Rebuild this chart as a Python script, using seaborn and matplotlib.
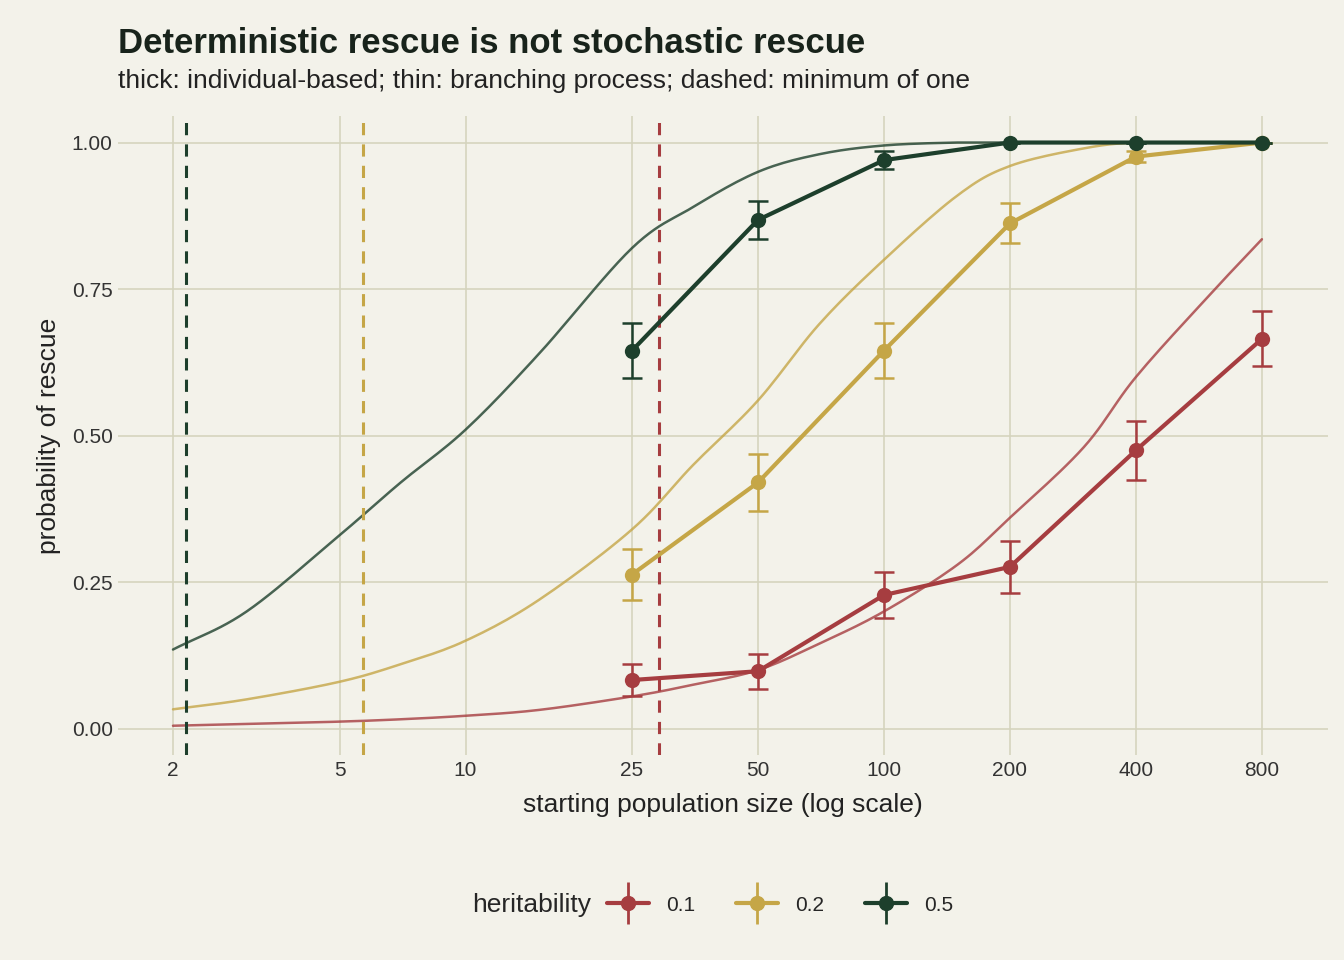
import numpy as np
import pandas as pd
import matplotlib
matplotlib.use("Agg")
import matplotlib.pyplot as plt
from matplotlib.lines import Line2D
from matplotlib.offsetbox import HPacker
import seaborn as sns

# values
herit = ["0.1", "0.2", "0.5"]
colors = {"0.1": "#A63D40", "0.2": "#C5A647", "0.5": "#1D3F2C"}

curve_n = [2, 3, 5, 7, 10, 15, 25, 35, 50, 70, 100, 150, 200, 300, 400, 600, 800]
curve_01 = [0.005, 0.008, 0.012, 0.016, 0.022, 0.032, 0.055, 0.075, 0.10, 0.145, 0.20, 0.28, 0.36, 0.48, 0.60, 0.74, 0.835]
curve_02 = [0.033, 0.05, 0.08, 0.11, 0.15, 0.22, 0.34, 0.45, 0.56, 0.69, 0.80, 0.91, 0.96, 0.99, 1.0, 1.0, 1.0]
curve_05 = [0.135, 0.20, 0.33, 0.42, 0.51, 0.64, 0.82, 0.89, 0.95, 0.98, 0.995, 1.0, 1.0, 1.0, 1.0, 1.0, 1.0]

sim_n = [25, 50, 100, 200, 400, 800]
sim_01 = [0.083, 0.098, 0.228, 0.276, 0.475, 0.665]
err_01 = [0.027, 0.03, 0.04, 0.044, 0.05, 0.047]
sim_02 = [0.263, 0.42, 0.645, 0.862, 0.976, 1.0]
err_02 = [0.043, 0.049, 0.047, 0.034, 0.01, 0.0]
sim_05 = [0.645, 0.868, 0.97, 1.0, 1.0, 1.0]
err_05 = [0.047, 0.033, 0.015, 0.0, 0.0, 0.0]

min_one = [29.0, 5.69, 2.15]  # for 0.1, 0.2, 0.5

curves = pd.DataFrame({
    "n": curve_n * 3,
    "p": curve_01 + curve_02 + curve_05,
    "h": ["0.1"] * len(curve_n) + ["0.2"] * len(curve_n) + ["0.5"] * len(curve_n),
})
sims = pd.DataFrame({
    "n": sim_n * 3,
    "p": sim_01 + sim_02 + sim_05,
    "err": err_01 + err_02 + err_05,
    "h": ["0.1"] * 6 + ["0.2"] * 6 + ["0.5"] * 6,
})


def smooth(x, y, k=12):
    # Catmull-Rom through the read points, in log-x space, just for drawing
    lx = np.log(np.asarray(x, float))
    y = np.asarray(y, float)
    P = np.column_stack([lx, y])
    P = np.vstack([P[0] * 2 - P[1], P, P[-1] * 2 - P[-2]])
    out = []
    t = np.linspace(0, 1, k, endpoint=False)[:, None]
    for i in range(1, len(P) - 2):
        p0, p1, p2, p3 = P[i - 1], P[i], P[i + 1], P[i + 2]
        out.append(0.5 * (2 * p1 + (-p0 + p2) * t + (2 * p0 - 5 * p1 + 4 * p2 - p3) * t ** 2
                          + (-p0 + 3 * p1 - 3 * p2 + p3) * t ** 3))
    out.append(P[-2][None, :])
    out = np.vstack(out)
    return np.exp(out[:, 0]), np.clip(out[:, 1], 0, 1)


bg = "#F3F2EA"
sns.set_theme(style="whitegrid")
plt.rcParams["font.family"] = ["Liberation Sans", "DejaVu Sans"]

fig, ax = plt.subplots(figsize=(13.44, 9.6), dpi=100)
fig.patch.set_facecolor(bg)
ax.set_facecolor(bg)

for h, c in colors.items():
    d = curves[curves.h == h]
    sx, sy = smooth(d.n, d.p)
    ax.plot(sx, sy, color=c, lw=1.8, alpha=0.8, zorder=2)
for h, x in zip(herit, min_one):
    ax.axvline(x, color=colors[h], ls=(0, (4, 3)), lw=2.2, zorder=2)

sns.lineplot(data=sims, x="n", y="p", hue="h", palette=colors, lw=3,
             marker="o", markersize=11, markeredgewidth=0, ax=ax, legend=False, zorder=4)
for h, c in colors.items():
    d = sims[sims.h == h]
    ax.errorbar(d.n, d.p, yerr=d.err, fmt="none", ecolor=c, elinewidth=1.8,
                capsize=7, capthick=1.8, zorder=3)

ax.set_xscale("log")
ax.set_xlim(1.48, 1150)
ax.set_ylim(-0.045, 1.045)
ticks = [2, 5, 10, 25, 50, 100, 200, 400, 800]
ax.set_xticks(ticks)
ax.set_xticklabels([str(t) for t in ticks])
ax.minorticks_off()
ax.set_yticks([0, 0.25, 0.5, 0.75, 1.0])
ax.set_yticklabels(["0.00", "0.25", "0.50", "0.75", "1.00"])
ax.grid(True, color="#D5D4BE", lw=1.2)
for s in ax.spines.values():
    s.set_visible(False)
ax.tick_params(labelsize=15, colors="#333333", length=0, pad=4)
ax.set_xlabel("starting population size (log scale)", fontsize=19, color="#222222", labelpad=10)
ax.set_ylabel("probability of rescue", fontsize=19, color="#222222", labelpad=8)

fig.text(0.088, 0.955, "Deterministic rescue is not stochastic rescue",
         fontsize=25, fontweight="bold", color="#18231B", va="center")
fig.text(0.088, 0.916, "thick: individual-based; thin: branching process; dashed: minimum of one",
         fontsize=19, color="#222222", va="center")

handles = [(Line2D([0], [0], color=colors[h], lw=0, marker="|", markersize=30, markeredgewidth=2),
            Line2D([0], [0], color=colors[h], lw=3, marker="o", markersize=10))
           for h in herit]
leg = fig.legend(handles, herit, title="heritability", loc="lower center", ncol=3,
                 bbox_to_anchor=(0.53, 0.025), frameon=False, fontsize=15,
                 title_fontsize=19, handlelength=2)
box = leg._legend_box
box._children = [HPacker(children=box._children, align="center", pad=0, sep=12)]

fig.subplots_adjust(left=0.088, right=0.988, top=0.879, bottom=0.2135)
fig.savefig("out.png", dpi=100, facecolor=bg)
